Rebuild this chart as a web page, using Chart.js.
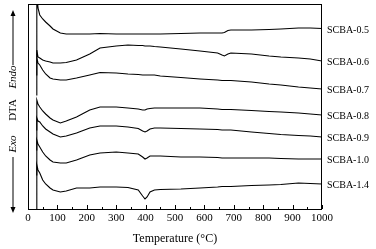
<!DOCTYPE html>
<html>
<head>
<meta charset="utf-8">
<script src="https://cdn.jsdelivr.net/npm/chart.js@4"></script>
<style>
  html, body { margin: 0; padding: 0; background: #fff; }
  #wrap { width: 376px; height: 249px; }
</style>
</head>
<body>
<div id="wrap"><canvas id="dta"></canvas></div>
<script>
// temperature (°C) and DTA signal (arbitrary units, endo up, curves stacked)
let temperature = [28, 30, 34, 40, 50, 60, 75, 85, 110, 130, 165, 210, 245, 300, 340, 375, 390, 398, 405, 415, 430, 450, 520, 585, 645, 660, 668, 680, 690, 760, 820, 860, 920, 960, 1000]

let scba05 = [154, 219, 201, 194, 190, 187, 183, 180, 176, 175, 175, 175, 175.5, 175, 175, 175, 175, 175, 175, 175, 175, 175, 175.5, 176, 176, 176, 176.5, 178.5, 179, 179, 179.5, 180, 181, 181, 180.5]
let scba06 = [134, 159, 152, 151, 149, 148, 147, 146, 146, 146.5, 149, 155, 161, 163, 164, 163.5, 163.5, 163, 163, 163, 162.5, 162, 160, 158, 156, 154, 153, 155, 156, 155, 153, 152, 151, 150, 148]
let scba07 = [114, 151, 146, 144, 139, 135, 131, 130, 129, 129, 131, 134, 136.5, 136, 135, 134.5, 134, 134, 134, 134, 134, 133, 131.5, 130, 129, 128.5, 128.5, 128.5, 128.5, 127, 125, 124, 122, 121, 120]
let scba08 = [79, 109, 105, 102, 98, 95, 91, 89, 86, 88, 92, 99, 102, 102, 101, 100, 99, 99, 100, 100.5, 101, 101, 101, 101, 100, 99.5, 99.5, 99.5, 99.5, 98.5, 97.5, 97, 96, 95, 94]
let scba09 = [59, 91, 88, 87, 83, 80, 77, 75, 72, 73, 76, 81, 83, 83, 82, 80.5, 78, 77, 78, 80, 81, 81, 80.5, 80, 79.5, 79, 79, 79, 79, 77, 75.5, 74.5, 73.5, 73, 72]
let scba10 = [34, 69, 65, 62, 57, 53, 49, 47, 46, 46, 49, 54, 56, 57, 56, 55, 52, 50, 51, 53, 53, 53, 52, 52, 51.5, 51, 51, 51, 51, 51, 51, 50.5, 50, 50, 50]
let scba14 = [-6, 44, 39, 36, 29, 25, 21, 19, 17, 18, 21, 21, 22, 22, 21.5, 19, 13, 10, 12, 17, 19, 19.5, 20, 21, 22, 22.5, 22.5, 22.5, 22.5, 23.5, 24, 24.5, 26, 25.5, 25]

let seriesNames = ["SCBA-0.5", "SCBA-0.6", "SCBA-0.7", "SCBA-0.8", "SCBA-0.9", "SCBA-1.0", "SCBA-1.4"]
let seriesValues = [scba05, scba06, scba07, scba08, scba09, scba10, scba14]

let xTicks = [0, 100, 200, 300, 400, 500, 600, 700, 800, 900, 1000]

const serif = "'Liberation Serif', 'DejaVu Serif', serif"


function toPoints(values) {
    return values.map((v, i) => ({ x: temperature[i], y: v }))
}


// frame, inward ticks, curve labels and the Exo/Endo axis label
const decorations = {
    id: 'decorations',
    afterDraw(chart) {
        let ctx = chart.ctx
        let area = chart.chartArea
        let xScale = chart.scales.x

        ctx.save()
        ctx.strokeStyle = '#000'
        ctx.lineWidth = 1
        ctx.strokeRect(area.left + 0.5, area.top + 0.5, area.right - area.left - 1, area.bottom - area.top)

        ctx.beginPath()
        for (let t = 0; t <= 1000; t += 50) {
            let px = Math.round(xScale.getPixelForValue(t)) + 0.5
            let len = (t % 100 == 0) ? 4 : 2
            ctx.moveTo(px, area.bottom)
            ctx.lineTo(px, area.bottom - len)
        }
        ctx.stroke()

        // names at the end of each curve
        ctx.fillStyle = '#000'
        ctx.font = "10px " + serif
        ctx.textAlign = 'left'
        ctx.textBaseline = 'middle'
        chart.data.datasets.forEach((ds, i) => {
            let meta = chart.getDatasetMeta(i)
            let last = meta.data[meta.data.length - 1]
            ctx.fillText(ds.label, area.right + 5, last.y + 1.5)
        })

        // rotated axis label with arrows
        ctx.translate(13, 0)
        ctx.rotate(-Math.PI / 2)
        ctx.textAlign = 'center'
        ctx.font = "italic 11px " + serif
        ctx.fillText("Endo", -77, 0)
        ctx.fillText("Exo", -144, 0)
        ctx.font = "11px " + serif
        ctx.fillText("DTA", -110, 0)

        ctx.beginPath()
        ctx.moveTo(-65, 0)
        ctx.lineTo(-13, 0)
        ctx.moveTo(-157, 0)
        ctx.lineTo(-209, 0)
        ctx.stroke()

        ctx.beginPath()
        ctx.moveTo(-10, 0)
        ctx.lineTo(-16, -2.5)
        ctx.lineTo(-16, 2.5)
        ctx.closePath()
        ctx.moveTo(-213, 0)
        ctx.lineTo(-207, -2.5)
        ctx.lineTo(-207, 2.5)
        ctx.closePath()
        ctx.fill()
        ctx.restore()
    }
}


function init() {

    let ctx = document.getElementById("dta")

    let datasets = seriesNames.map((name, i) => ({
        label: name,
        data: toPoints(seriesValues[i]),
        borderColor: '#000',
        borderWidth: 1.1,
        pointRadius: 0,
        fill: false,
        tension: 0
    }))

    chart = new Chart(ctx, {
        type: 'line',
        data: { datasets: datasets },
        plugins: [decorations],
        options: {
            responsive: true,
            maintainAspectRatio: false,
            animation: false,
            layout: {
                padding: { left: 28, right: 54, top: 4, bottom: 0 }
            },
            scales: {
                x: {
                    type: 'linear',
                    min: 0,
                    max: 1000,
                    grid: { display: false, drawTicks: false },
                    border: { display: false },
                    afterBuildTicks: function (scale) {
                        scale.ticks = xTicks.map(v => ({ value: v }))
                    },
                    afterFit: function (scale) {
                        scale.height = 40
                    },
                    ticks: {
                        color: '#000',
                        padding: 3,
                        maxRotation: 0,
                        font: { family: serif, size: 11 },
                        // plain numbers, no thousands separator
                        callback: function (value) {
                            return String(value)
                        }
                    },
                    title: {
                        display: true,
                        text: 'Temperature (°C)',
                        color: '#000',
                        padding: { top: 0, bottom: 3 },
                        font: { family: serif, size: 12 }
                    }
                },
                y: {
                    display: false,
                    min: 0,
                    max: 205
                }
            },
            plugins: {
                legend: { display: false },
                tooltip: { enabled: false }
            }
        }
    })
}

init()
</script>
</body>
</html>
